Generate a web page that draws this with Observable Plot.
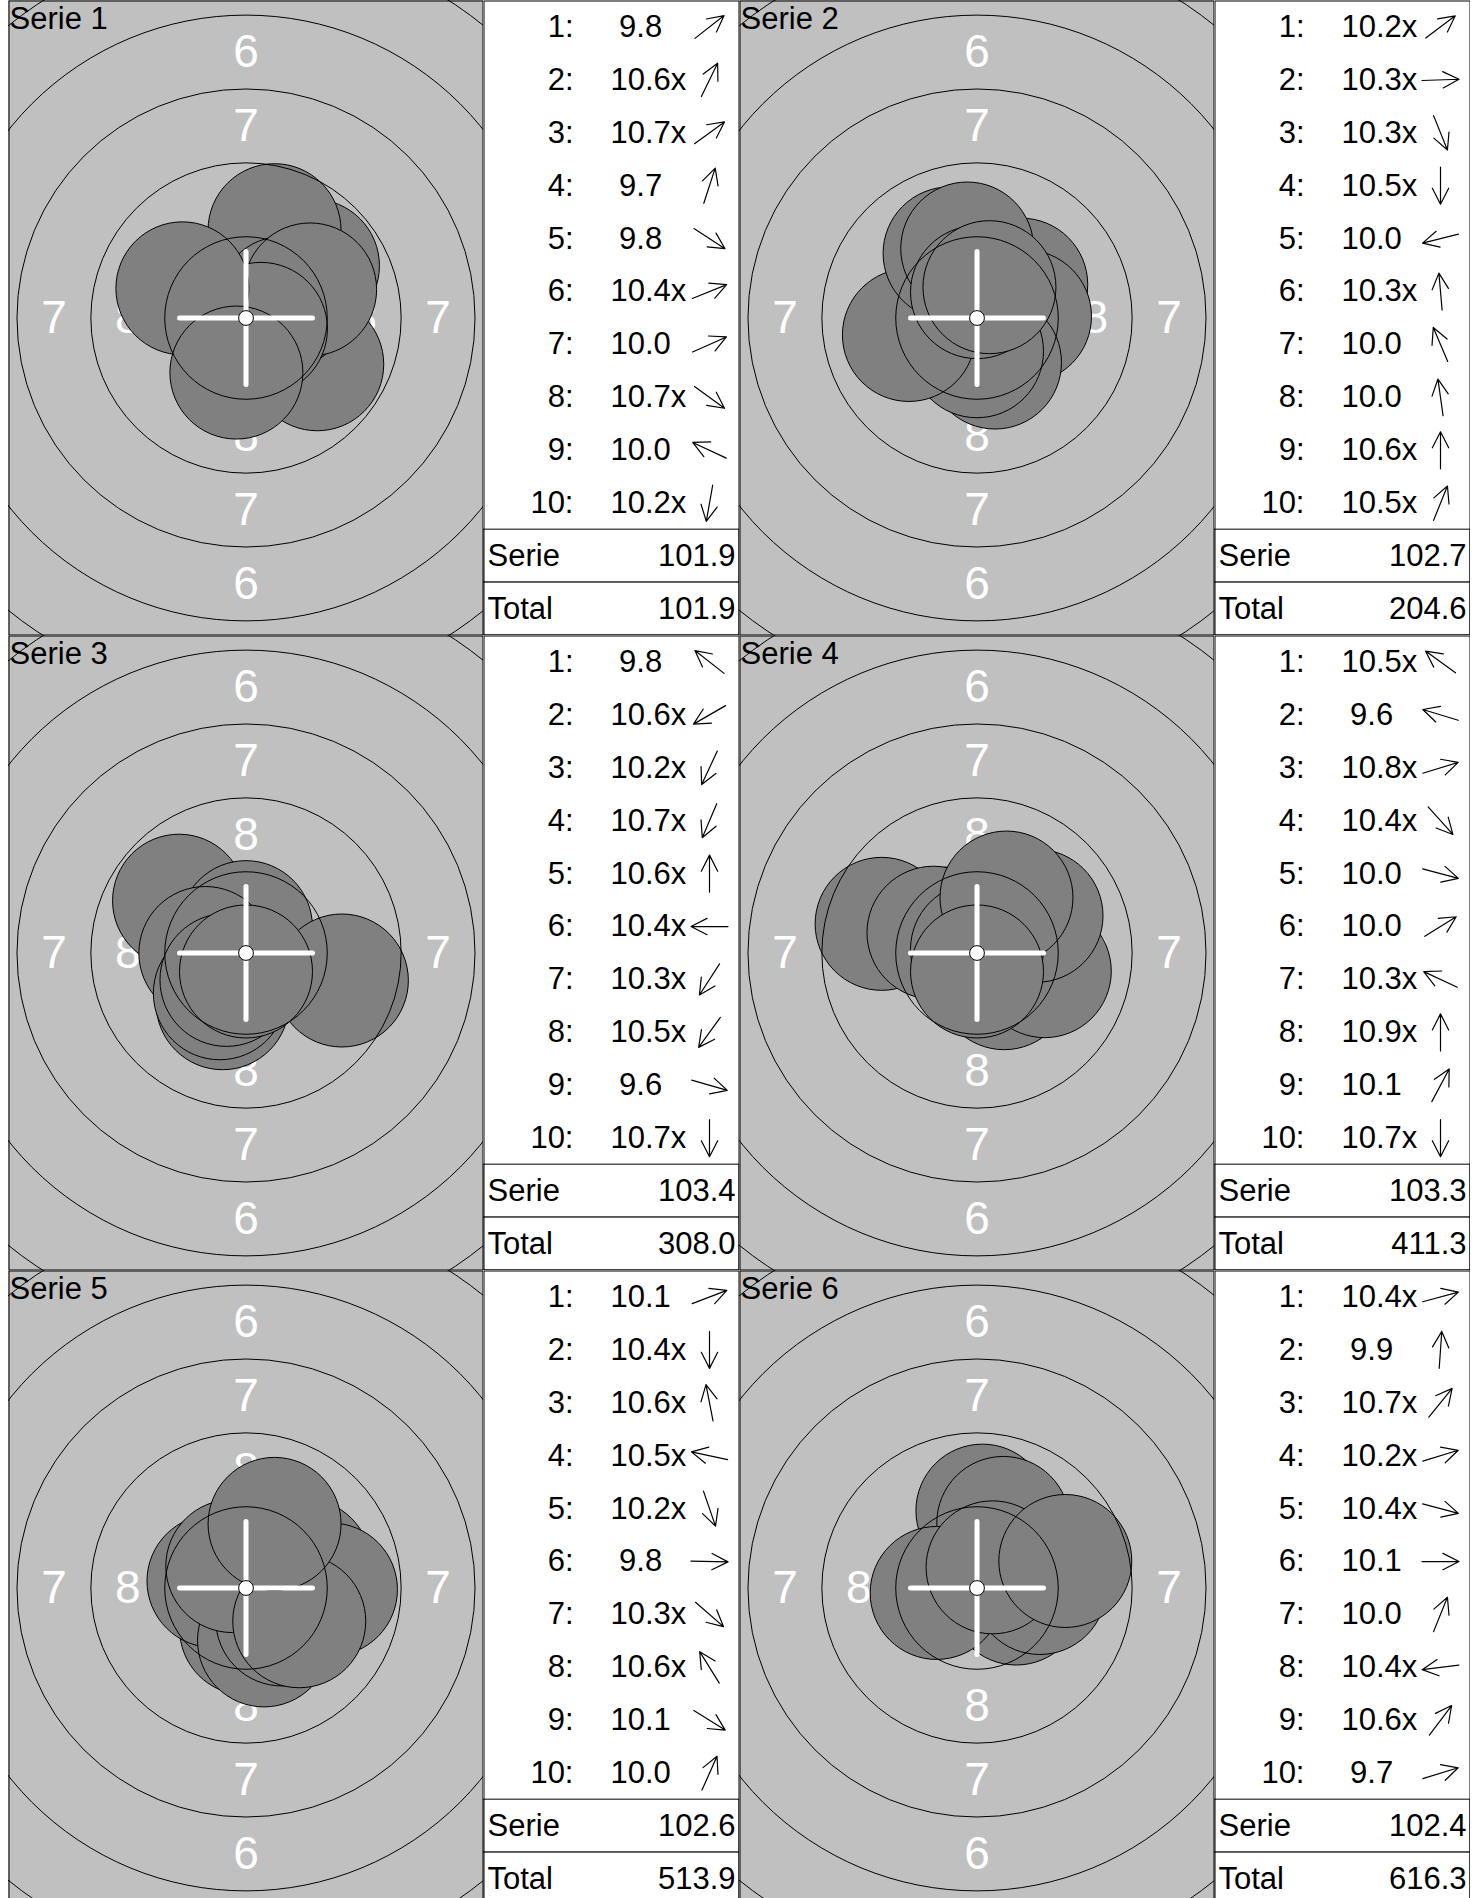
<!DOCTYPE html>
<html><head><meta charset="utf-8">
<script src="https://cdn.jsdelivr.net/npm/d3@7"></script>
<script src="https://cdn.jsdelivr.net/npm/@observablehq/plot@0.6"></script>
<style>
html,body{margin:0;padding:0;background:#fff;overflow:hidden;}
#chart{position:relative;width:1478px;height:1898px;overflow:hidden;}
.cell{position:absolute;overflow:hidden;}
.cell svg{display:block;}
</style></head><body><div id="chart"></div>
<script>
// ---------- data ----------
const serieNames = ["Serie 1", "Serie 2", "Serie 3", "Serie 4", "Serie 5", "Serie 6"];

const serie1Scores = [9.8, 10.6, 10.7, 9.7, 9.8, 10.4, 10.0, 10.7, 10.0, 10.2];
const serie2Scores = [10.2, 10.3, 10.3, 10.5, 10.0, 10.3, 10.0, 10.0, 10.6, 10.5];
const serie3Scores = [9.8, 10.6, 10.2, 10.7, 10.6, 10.4, 10.3, 10.5, 9.6, 10.7];
const serie4Scores = [10.5, 9.6, 10.8, 10.4, 10.0, 10.0, 10.3, 10.9, 10.1, 10.7];
const serie5Scores = [10.1, 10.4, 10.6, 10.5, 10.2, 9.8, 10.3, 10.6, 10.1, 10.0];
const serie6Scores = [10.4, 9.9, 10.7, 10.2, 10.4, 10.1, 10.0, 10.4, 10.6, 9.7];

// inner ten ("x") markers
const serie1Inner = [0, 1, 1, 0, 0, 1, 0, 1, 0, 1];
const serie2Inner = [1, 1, 1, 1, 0, 1, 0, 0, 1, 1];
const serie3Inner = [0, 1, 1, 1, 1, 1, 1, 1, 0, 1];
const serie4Inner = [1, 0, 1, 1, 0, 0, 1, 1, 0, 1];
const serie5Inner = [0, 1, 1, 1, 1, 0, 1, 1, 0, 0];
const serie6Inner = [1, 0, 1, 1, 1, 0, 0, 1, 1, 0];

// direction of each shot from the centre, degrees (0 = right, 90 = up)
const serie1Angles = [38, 64, 36, 72, -33, 22, 24, -36, 155, -100];
const serie2Angles = [37, 2, -68, -90, 194, 95, 113, 98, 90, 68];
const serie3Angles = [142, 210, 245, 247, 90, 180, 237, 234, -16, -90];
const serie4Angles = [144, 163, 17, -48, -15, 32, 155, 90, 62, -90];
const serie5Angles = [21, -90, 101, 168, -71, -1, -41, 122, -32, 66];
const serie6Angles = [15, 86, 51, 17, -15, 0, 68, 187, 53, 17];

const serieSums = [101.9, 102.7, 103.4, 103.3, 102.6, 102.4];
const runningTotals = [101.9, 204.6, 308.0, 411.3, 513.9, 616.3];

const ringNumbers = [1, 2, 3, 4, 5, 6, 7, 8, 9];
const labelledRings = [1, 2, 3, 4, 5, 6, 7, 8];

// ---------- target geometry (10 m air rifle, mm) ----------
const PX_PER_MM = 29.55;
const TEN_R = 0.25, RING_STEP = 2.5, PELLET_R = 2.25;
const ringRadius = n => TEN_R + (10 - n) * RING_STEP;
const scoreDistance = s => (11 - s - 0.05) * RING_STEP;

// ---------- layout ----------
const TARGET_W = 475, PANEL_H = 635, TABLE_W = 256, LEFT = 8, COL = 731;
const FONT = "'Liberation Sans', Arial, Helvetica, sans-serif";
const BG = "#c0c0c0", PELLET = "#808080";

const allScores = [serie1Scores, serie2Scores, serie3Scores, serie4Scores, serie5Scores, serie6Scores];
const allInner = [serie1Inner, serie2Inner, serie3Inner, serie4Inner, serie5Inner, serie6Inner];
const allAngles = [serie1Angles, serie2Angles, serie3Angles, serie4Angles, serie5Angles, serie6Angles];

const arrowShape = {
  draw(context, l) {
    const h = 18, a = 27 * Math.PI / 180;
    const hx = h * Math.sin(a), hy = h * Math.cos(a);
    context.moveTo(0, 0);
    context.lineTo(0, -l);
    context.moveTo(-hx, -l + hy);
    context.lineTo(0, -l);
    context.lineTo(hx, -l + hy);
  }
};

const chart = document.getElementById("chart");

function place(node, left, top, w, h) {
  const div = document.createElement("div");
  div.className = "cell";
  div.style.left = left + "px";
  div.style.top = top + "px";
  div.style.width = w + "px";
  div.style.height = h + "px";
  div.appendChild(node);
  chart.appendChild(div);
}

serieNames.forEach((name, i) => {
  const scores = allScores[i], inner = allInner[i], angles = allAngles[i];
  const shots = scores.map((s, j) => {
    const d = scoreDistance(s), t = angles[j] * Math.PI / 180;
    return {n: j + 1, score: s, x: d * Math.cos(t), y: d * Math.sin(t), r: PELLET_R};
  });
  const hx = TARGET_W / 2 / PX_PER_MM, hy = PANEL_H / 2 / PX_PER_MM;
  const rings = ringNumbers.map(n => ({x: 0, y: 0, r: ringRadius(n)}));
  const labels = [];
  for (const n of labelledRings) {
    const m = ringRadius(n) - RING_STEP / 2;
    labels.push({x: 0, y: m, t: String(n)}, {x: 0, y: -m, t: String(n)},
                {x: -m, y: 0, t: String(n)}, {x: m, y: 0, t: String(n)});
  }
  // only the ring numbers that fall inside the visible target area
  const visibleLabels = labels.filter(d => Math.abs(d.x) < hx && Math.abs(d.y) < hy);
  const arms = [
    {x1: -PELLET_R, y1: 0, x2: PELLET_R, y2: 0},
    {x1: 0, y1: -PELLET_R, x2: 0, y2: PELLET_R}
  ];
  const centre = [{x: 0, y: 0, r: TEN_R}];

  const target = Plot.plot({
    width: TARGET_W, height: PANEL_H, margin: 0,
    style: {fontFamily: FONT, background: BG},
    x: {domain: [-hx, hx], axis: null},
    y: {domain: [-hy, hy], axis: null},
    r: {type: "linear", domain: [0, 1], range: [0, PX_PER_MM]},
    marks: [
      Plot.frame({fill: BG}),
      Plot.text(visibleLabels, {x: "x", y: "y", text: "t", fill: "white", fontSize: 46, lineAnchor: "middle", clip: true}),
      // pellets in shot order: each one covers the earlier ones
      Plot.dot(shots, {x: "x", y: "y", r: "r", fill: PELLET, stroke: "black", strokeWidth: 1, sort: null}),
      Plot.dot(rings, {x: "x", y: "y", r: "r", fill: "none", stroke: "black", strokeWidth: 1, clip: true}),
      Plot.link(arms, {x1: "x1", y1: "y1", x2: "x2", y2: "y2", stroke: "white", strokeWidth: 5, strokeLinecap: "round"}),
      Plot.dot(centre, {x: "x", y: "y", r: "r", fill: "white", stroke: "black", strokeWidth: 1}),
      Plot.text([name], {text: d => d, frameAnchor: "top-left", textAnchor: "start", lineAnchor: "top", dx: 1, dy: 6, fontSize: 31, fill: "black"}),
      Plot.frame({stroke: "black", strokeWidth: 1, inset: 0.5})
    ]
  });

  const shotRows = scores.map((s, j) => ({
    row: String(j + 1),
    label: (j + 1) + ":",
    value: (s < 10 ? "\u00A0" : "") + s.toFixed(1) + (inner[j] ? "x" : ""),
    angle: angles[j]
  }));
  const summaryRows = [
    {row: "Serie", name: "Serie", value: serieSums[i]},
    {row: "Total", name: "Total", value: runningTotals[i]}
  ];
  const rowKeys = [...shotRows.map(d => d.row), "Serie", "Total"];

  const table = Plot.plot({
    width: TABLE_W, height: PANEL_H, margin: 0,
    style: {fontFamily: FONT, background: "white"},
    y: {type: "band", domain: rowKeys, padding: 0, round: false, axis: null},
    marks: [
      Plot.cell(summaryRows, {y: "row", fill: "white", stroke: "black", strokeWidth: 1}),
      Plot.text(shotRows, {y: "row", text: "label", frameAnchor: "left", dx: 90, textAnchor: "end", lineAnchor: "middle", fontSize: 31, fill: "black"}),
      Plot.text(shotRows, {y: "row", text: "value", frameAnchor: "left", dx: 127, textAnchor: "start", lineAnchor: "middle", fontSize: 31, fill: "black"}),
      Plot.vector(shotRows, {y: "row", frameAnchor: "left", dx: 226, rotate: d => 90 - d.angle, length: 37, anchor: "middle", shape: arrowShape, stroke: "black", strokeWidth: 1.2}),
      Plot.text(summaryRows, {y: "row", text: "name", frameAnchor: "left", dx: 4, textAnchor: "start", lineAnchor: "middle", fontSize: 31, fill: "black"}),
      Plot.text(summaryRows, {y: "row", text: d => d.value.toFixed(1), frameAnchor: "right", dx: -4, textAnchor: "end", lineAnchor: "middle", fontSize: 31, fill: "black"}),
      Plot.frame({stroke: "black", strokeWidth: 1, inset: 0.5})
    ]
  });

  const col = i % 2, row = Math.floor(i / 2);
  place(target, LEFT + col * COL, row * PANEL_H, TARGET_W, PANEL_H);
  place(table, LEFT + col * COL + TARGET_W, row * PANEL_H, TABLE_W, PANEL_H);
});
</script></body></html>
